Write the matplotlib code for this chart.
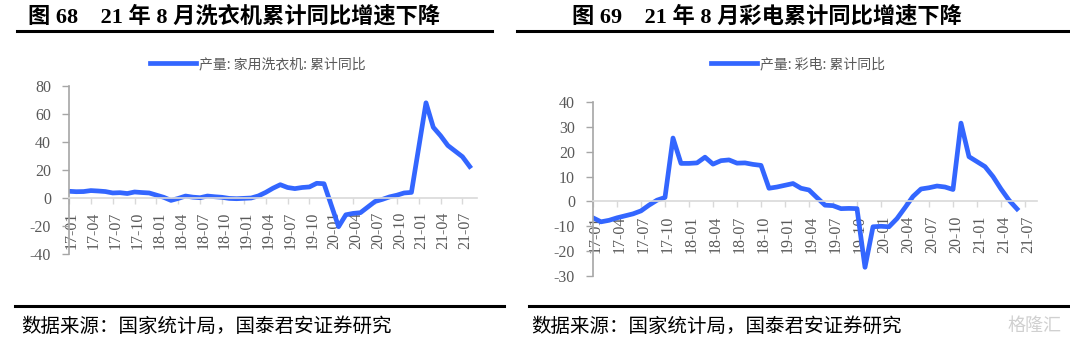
import numpy as np
import matplotlib
matplotlib.use("Agg")
import matplotlib.pyplot as plt
import matplotlib.transforms as mtransforms
from matplotlib.lines import Line2D

plt.rcParams['font.family'] = ['Liberation Serif', 'Noto Sans CJK SC', 'DejaVu Sans']
plt.rcParams['axes.unicode_minus'] = False

# ---- data: month index 0 = 2017-01 ----
# washing machines (Januaries not published -> skipped)
wm_idx = [0, 1, 2, 3, 4, 5, 6, 7, 8, 9, 10, 11,
          13, 14, 15, 16, 17, 18, 19, 20, 21, 22, 23,
          25, 26, 27, 28, 29, 30, 31, 32, 33, 34, 35,
          37, 38, 39, 40, 41, 42, 43, 44, 45, 46, 47,
          49, 50, 51, 52, 53, 54, 55]
wm_val = [4.8, 4.5, 4.6, 5.3, 5.0, 4.6, 3.6, 3.8, 3.2, 4.3, 3.9, 3.6,
          0.5, -1.7, -0.3, 1.4, 0.6, 0.2, 1.4, 0.9, 0.5, -0.3, -0.5,
          0.0, 1.5, 4.0, 7.0, 9.5, 7.5, 6.7, 7.5, 7.9, 10.5, 10.2,
          -20.5, -12.0, -11.0, -10.5, -6.5, -2.5, -1.0, 0.8, 2.0, 3.6, 4.0,
          68.0, 50.5, 44.5, 37.5, 33.5, 29.5, 22.5]

# colour TVs
tv_idx = list(range(54))
tv_val = [-6.6, -8.2, -7.6, -6.6, -5.8, -5.0, -3.8, -1.5, 0.5, 1.6,
          25.5, 15.3, 15.3, 15.5, 17.8, 15.0, 16.4, 16.7, 15.4, 15.5,
          14.9, 14.5, 5.3, 5.8, 6.5, 7.2, 5.3, 4.6, 1.5, -1.5,
          -1.7, -2.9, -2.8, -2.9, -26.5, -10.2, -10.0, -10.2, -6.9, -2.5,
          2.0, 5.0, 5.5, 6.2, 5.8, 4.8, 31.5, 18.0, 16.0, 14.0,
          10.0, 5.0, 0.5, -3.0]

tick_pos = list(range(0, 55, 3))
tick_lab = ['17-01', '17-04', '17-07', '17-10', '18-01', '18-04', '18-07',
            '18-10', '19-01', '19-04', '19-07', '19-10', '20-01', '20-04',
            '20-07', '20-10', '21-01', '21-04', '21-07']

BLUE = '#3366ff'
GREY = '#595959'
W, H = 1070, 343

fig = plt.figure(figsize=(10.7, 3.43), dpi=100)


def px_axes(x0, y_top, x1, y_bot):
    return fig.add_axes([x0 / W, 1 - y_bot / H, (x1 - x0) / W, (y_bot - y_top) / H])


def style(ax, ylim, yticks, xmax):
    for s in ['top', 'right']:
        ax.spines[s].set_visible(False)
    ax.spines['bottom'].set_position(('data', 0))
    ax.spines['bottom'].set_color('#d9d9d9')
    ax.spines['bottom'].set_linewidth(1.2)
    ax.spines['left'].set_color('#a6a6a6')
    ax.spines['left'].set_linewidth(1.2)
    ax.set_xlim(0, xmax)
    ax.set_ylim(*ylim)
    ax.set_yticks(yticks)
    ax.set_xticks(tick_pos)
    ax.set_xticklabels(tick_lab)
    ax.tick_params(axis='y', length=5, width=1, color='#a6a6a6', pad=8,
                   labelsize=11.5, labelcolor=GREY)
    ax.tick_params(axis='x', length=4, width=1, color='#d9d9d9', pad=6,
                   labelsize=11.5, labelcolor=GREY, labelrotation=90)
    off = mtransforms.ScaledTranslation(3 / 100, 0, fig.dpi_scale_trans)
    for lab in ax.get_xticklabels():
        lab.set_transform(lab.get_transform() + off)
    ax.patch.set_alpha(0)


ax1 = px_axes(69, 86, 477, 254)
ax1.plot(wm_idx, wm_val, color=BLUE, lw=3.4, solid_joinstyle='round')
style(ax1, (-40, 80), range(-40, 81, 20), 56)

ax2 = px_axes(593, 102, 1037, 276)
ax2.plot(tv_idx, tv_val, color=BLUE, lw=3.4, solid_joinstyle='round')
style(ax2, (-30, 40), range(-30, 41, 10), 55.5)

# legends
for cx, label in [(258, '产量: 家用洗衣机: 累计同比'), (798, '产量: 彩电: 累计同比')]:
    h = Line2D([], [], color=BLUE, lw=3.4)
    fig.legend([h], [label], loc='center', bbox_to_anchor=(cx / W, 1 - 64 / H),
               frameon=False, handlelength=3.3, handletextpad=0.2,
               prop={'family': ['Noto Sans CJK SC'], 'size': 10}, labelcolor=GREY)

# titles
tfam = ['Liberation Serif', 'Noto Sans CJK SC']
fig.text(28 / W, 1 - 17 / H, '图 68    21 年 8 月洗衣机累计同比增速下降', fontsize=16,
         fontweight='bold', family=tfam, va='center', ha='left')
fig.text(572 / W, 1 - 17 / H, '图 69    21 年 8 月彩电累计同比增速下降', fontsize=16,
         fontweight='bold', family=tfam, va='center', ha='left')

# rules
for x0, x1, y, lw in [(17, 492, 31, 2.2), (517, 1068, 31, 2.2),
                      (15, 504, 306, 2.2), (529, 1070, 306, 2.2)]:
    fig.add_artist(Line2D([x0 / W, x1 / W], [1 - y / H, 1 - y / H],
                          color='black', lw=lw, transform=fig.transFigure))

# footers
ffam = ['Noto Sans CJK SC']
fig.text(21 / W, 1 - 326 / H, '数据来源：国家统计局，国泰君安证券研究', fontsize=14,
         family=ffam, va='center', ha='left')
fig.text(531 / W, 1 - 326 / H, '数据来源：国家统计局，国泰君安证券研究', fontsize=14,
         family=ffam, va='center', ha='left')
fig.text(1035 / W, 1 - 326 / H, '格隆汇', fontsize=13, family=ffam, color='#d0d0d0',
         va='center', ha='center')

fig.savefig('out.png', dpi=100)
